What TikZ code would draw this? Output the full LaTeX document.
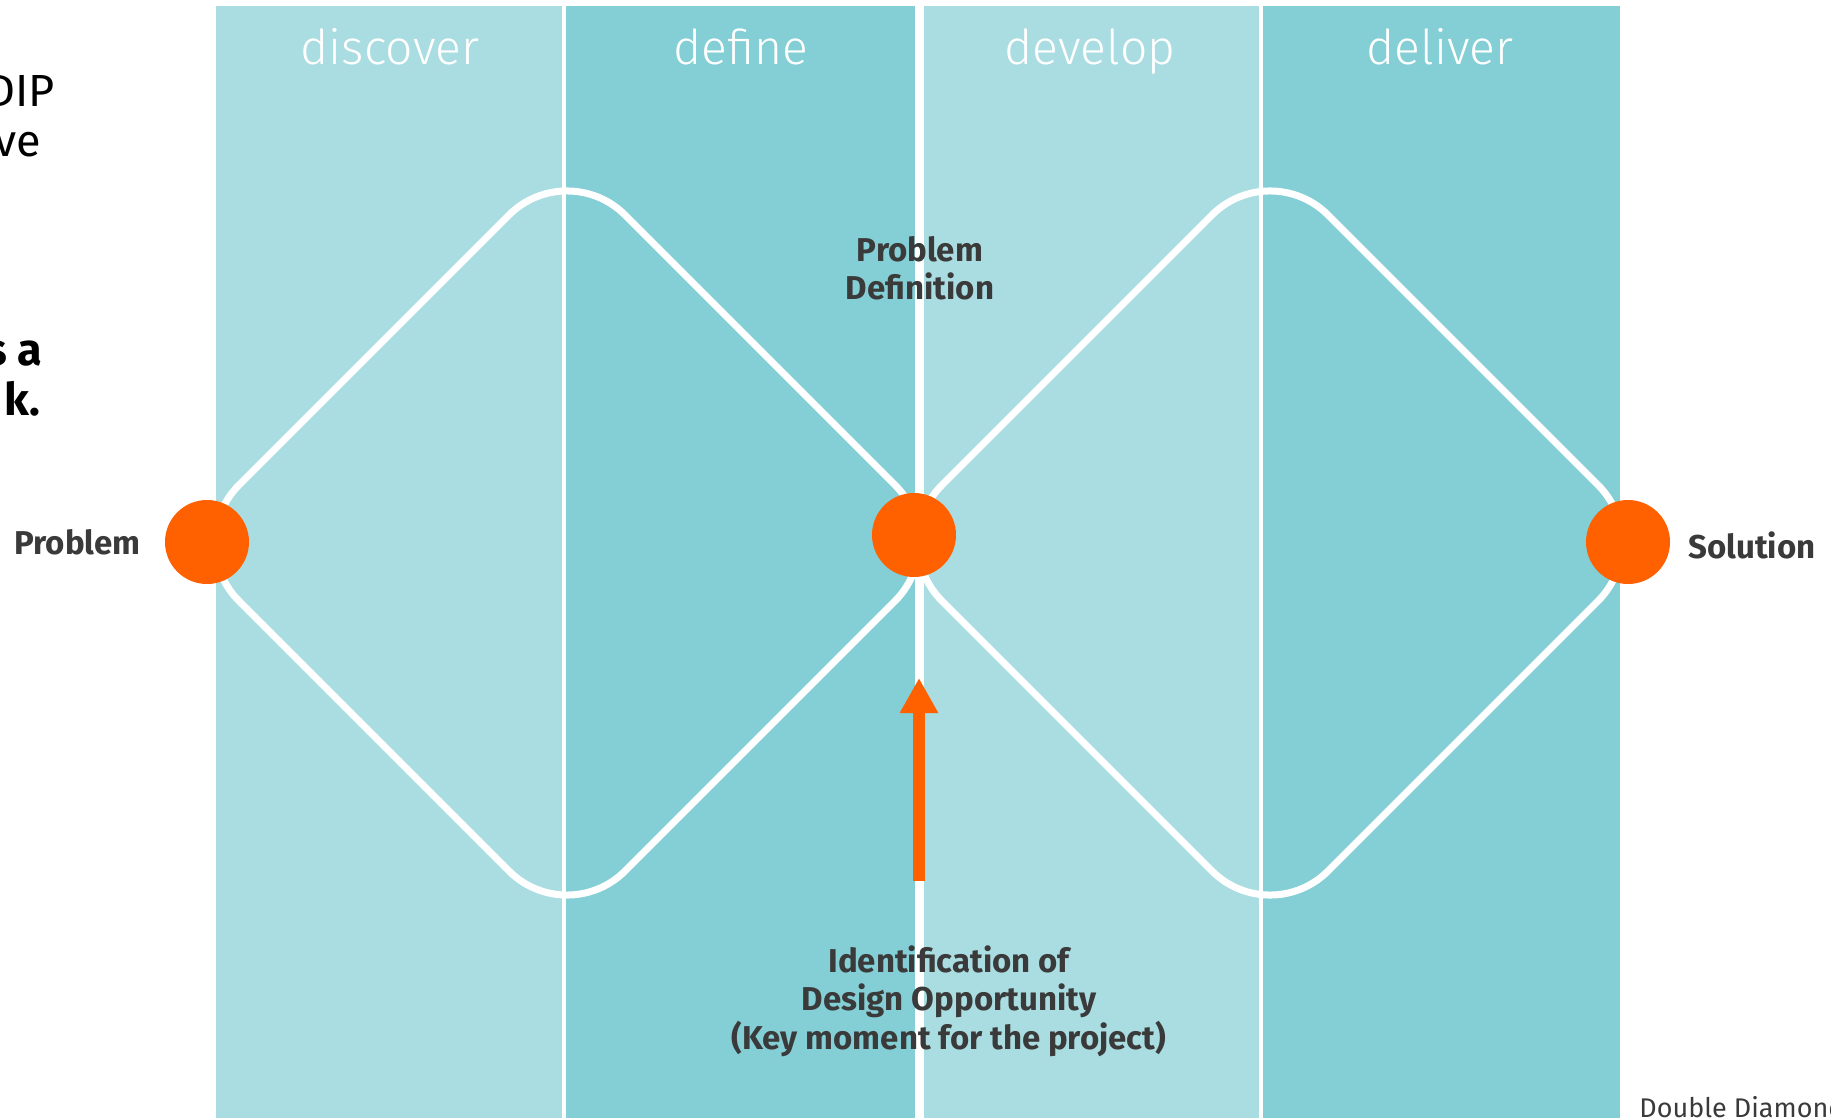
\documentclass[tikz,border=0pt]{standalone}
\usepackage{fontspec}
\setmainfont{Fira Sans}
\newfontfamily\phasefont{Fira Sans Light}
\usepackage{xcolor}
\usetikzlibrary{arrows.meta,positioning}

\definecolor{ddlight}{HTML}{AADDE1}
\definecolor{dddark}{HTML}{84CED5}
\definecolor{ddorange}{HTML}{FF6000}
\definecolor{ddtext}{HTML}{3A3A3A}

\begin{document}
\begin{tikzpicture}[x=0.5pt, y=-0.5pt]
			\tikzstyle{every node}=[inner sep=0pt, text=ddtext, font=\bfseries\fontsize{16.5}{19.25}\selectfont]
			\tikzstyle{phase}=[anchor=base, text=white, font=\phasefont\fontsize{24}{28}\selectfont]
			\tikzstyle{dot}=[circle, fill=ddorange, minimum size=42pt]
			\tikzstyle{sidetext}=[anchor=base east, text=black, font=\fontsize{22.5}{27}\selectfont]
			\tikzstyle{diamondline}=[white, line width=3.5pt, rounded corners=41pt]
			\useasboundingbox (0,0) rectangle (1831,1118);
			% the four phases
			\fill [ddlight] (216,6) rectangle (564,1118);
			\fill [dddark] (564,6) rectangle (919,1118);
			\fill [ddlight] (919,6) rectangle (1261,1118);
			\fill [dddark] (1261,6) rectangle (1620,1118);
			\draw [white, line width=2pt] (564,6) -- (564,1118);
			\draw [white, line width=4.5pt] (919.5,6) -- (919.5,1118);
			\draw [white, line width=2pt] (1261,6) -- (1261,1118);
			\node [phase] (discover) at (390,65) {discover};
			\node [phase] (define) at (741,65) {define};
			\node [phase] (develop) at (1090,65) {develop};
			\node [phase] (deliver) at (1440,65) {deliver};
			% the two diamonds
			\draw [diamondline] (374,350) -- (567,157) -- (953,543) -- (567,929) -- (181,543) -- cycle;
			\draw [diamondline] (1077,350) -- (1270,157) -- (1656,543) -- (1270,929) -- (884,543) -- cycle;
			% key moment arrow
			\coordinate (arrowfoot) at (919,881);
			\coordinate (arrowtip) at (919,678);
			\draw [ddorange, line width=6pt, -{Triangle[length=17.5pt, width=18pt]}] (arrowfoot) -- (arrowtip);
			\node [dot] (problem) at (207,542) {};
			\node [dot] (definition) at (914,535) {};
			\node [dot] (solution) at (1628,542) {};
			\node [anchor=east] (problemlabel) at (141,542) {Problem};
			\node [anchor=west] (solutionlabel) at (1688,545) {Solution};
			\node [anchor=north, align=center] (deflabel) at (920,236) {Problem\\Definition};
			\node [anchor=north, align=center] (opplabel) at (949,945) {Identification of\\Design Opportunity\\(Key moment for the project)};
			% text of the slide, cut by the page edge
			\node [sidetext] (sidea) at (55,107) {DIP};
			\node [sidetext] (sideb) at (41,157) {ve};
			\node [sidetext, font=\bfseries\fontsize{22.5}{27}\selectfont] (sidec) at (43,365) {s a};
			\node [sidetext, font=\bfseries\fontsize{22.5}{27}\selectfont] (sided) at (41,415) {k.};
			\node [anchor=base west, font=\fontsize{13.5}{16}\selectfont] (caption) at (1639,1117) {Double Diamond};
		\end{tikzpicture}
\end{document}
